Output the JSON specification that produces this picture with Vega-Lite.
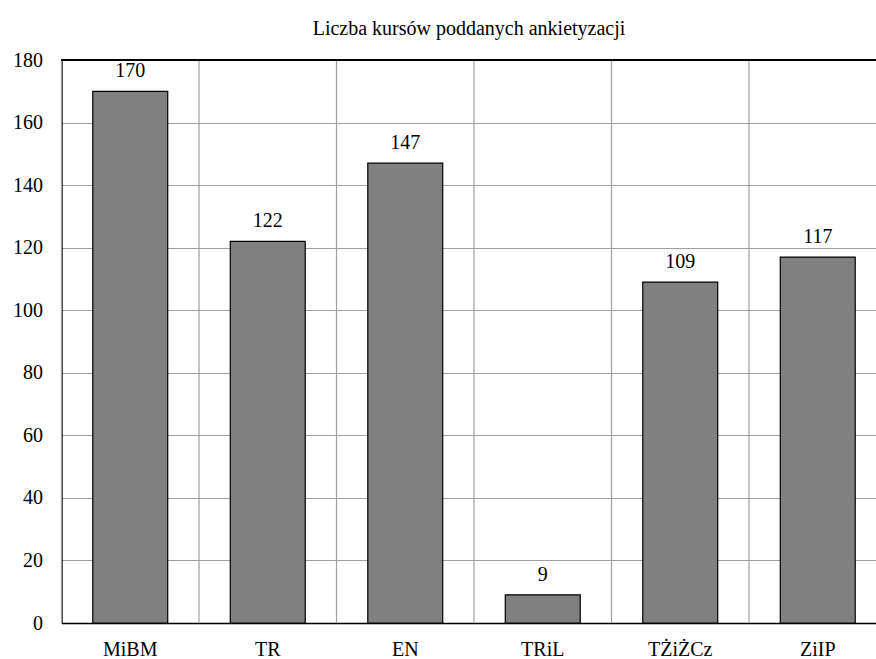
{
  "$schema": "https://vega.github.io/schema/vega-lite/v6.json",
  "width": 815,
  "height": 563,
  "autosize": {"type": "none"},
  "padding": {"left": 61.5, "top": 60, "right": 0, "bottom": 36},
  "title": {
    "text": "Liczba kursów poddanych ankietyzacji",
    "font": "Liberation Serif",
    "fontSize": 20,
    "fontWeight": "normal",
    "color": "#000000",
    "anchor": "middle",
    "baseline": "alphabetic",
    "offset": -5
  },
  "config": {
    "view": {"stroke": null},
    "font": "Liberation Serif"
  },
  "data": {
    "values": [
      {"kierunek": "MiBM", "liczba": 170},
      {"kierunek": "TR", "liczba": 122},
      {"kierunek": "EN", "liczba": 147},
      {"kierunek": "TRiL", "liczba": 9},
      {"kierunek": "TŻiŻCz", "liczba": 109},
      {"kierunek": "ZiIP", "liczba": 117}
    ]
  },
  "layer": [
    {
      "mark": {"type": "rule", "color": "#a0a0a0", "strokeWidth": 1.2},
      "encoding": {
        "x": {
          "field": "kierunek",
          "type": "nominal",
          "sort": null,
          "bandPosition": 0,
          "scale": {"range": [0, 825], "paddingInner": 0, "paddingOuter": 0},
          "axis": null
        }
      }
    },
    {
      "mark": {"type": "bar", "color": "#808080", "stroke": "#000000", "strokeWidth": 1.2},
      "encoding": {
        "x": {
          "field": "kierunek",
          "type": "nominal",
          "sort": null,
          "scale": {"range": [0, 825], "paddingInner": 0.455, "paddingOuter": 0.2275},
          "axis": {
            "title": null,
            "labelAngle": 0,
            "labelFont": "Liberation Serif",
            "labelFontSize": 20,
            "labelColor": "#000000",
            "labelPadding": 16,
            "ticks": false,
            "grid": false,
            "domainColor": "#000000",
            "domainWidth": 1.5
          }
        },
        "y": {
          "field": "liczba",
          "type": "quantitative",
          "scale": {"domain": [0, 180], "nice": false},
          "axis": {
            "title": null,
            "values": [0, 20, 40, 60, 80, 100, 120, 140, 160, 180],
            "labelFont": "Liberation Serif",
            "labelFontSize": 20,
            "labelColor": "#000000",
            "labelPadding": 19,
            "ticks": false,
            "grid": true,
            "gridColor": "#a0a0a0",
            "gridWidth": 1.2,
            "domainColor": "#000000",
            "domainWidth": 1.5
          }
        }
      }
    },
    {
      "mark": {
        "type": "text",
        "font": "Liberation Serif",
        "fontSize": 20,
        "color": "#000000",
        "baseline": "alphabetic",
        "dy": -14
      },
      "encoding": {
        "x": {
          "field": "kierunek",
          "type": "nominal",
          "sort": null,
          "scale": {"range": [0, 825], "paddingInner": 0.455, "paddingOuter": 0.2275},
          "axis": null
        },
        "y": {"field": "liczba", "type": "quantitative"},
        "text": {"field": "liczba", "type": "quantitative"}
      }
    },
    {
      "mark": {"type": "rule", "color": "#000000", "strokeWidth": 1.5},
      "encoding": {"y": {"datum": 180}}
    }
  ],
  "resolve": {"scale": {"x": "independent"}, "axis": {"x": "independent"}}
}
